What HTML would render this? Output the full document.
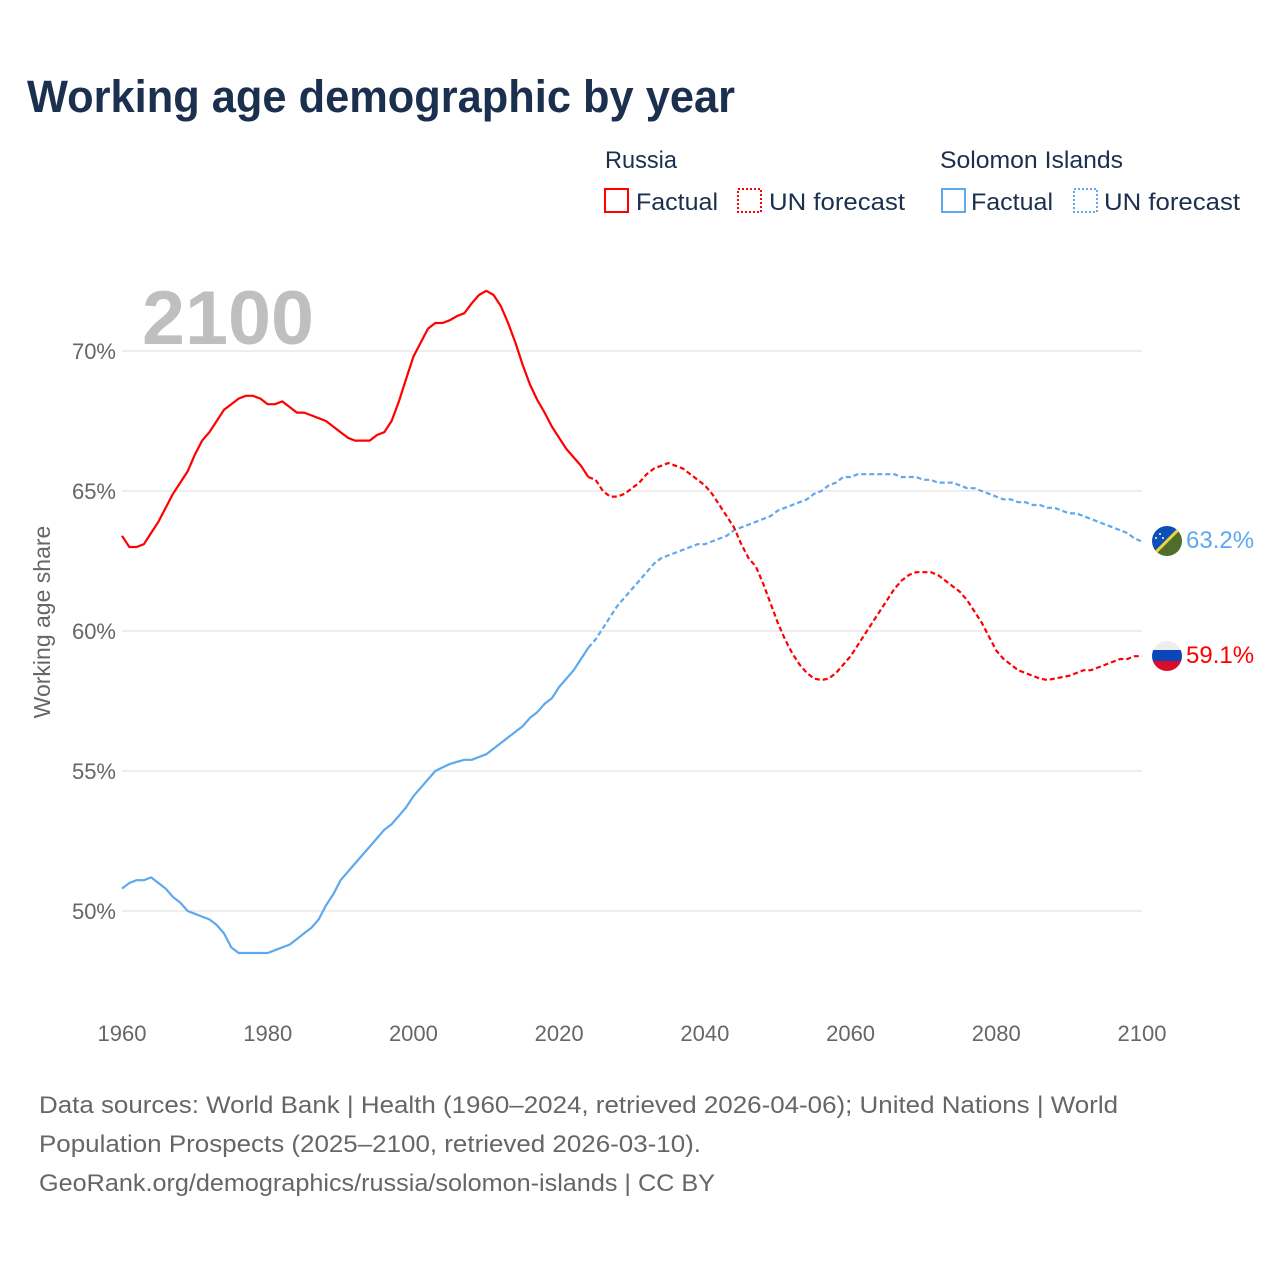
<!DOCTYPE html>
<html><head><meta charset="utf-8"><style>
html,body{margin:0;padding:0;background:#fff;}
svg{display:block;font-family:"Liberation Sans",sans-serif;}
</style></head><body>
<svg id="chart" width="1280" height="1280" viewBox="0 0 1280 1280" xmlns="http://www.w3.org/2000/svg">
<text x="27" y="112" font-size="45" font-weight="bold" fill="#1b2f4e" textLength="708" lengthAdjust="spacingAndGlyphs">Working age demographic by year</text>
<g>
<text x="605" y="168" font-size="24" fill="#1b2f4e" textLength="72" lengthAdjust="spacingAndGlyphs">Russia</text>
<rect x="605" y="189" width="23" height="23" fill="none" stroke="#ff0000" stroke-width="2"/>
<text x="636" y="210" font-size="24" fill="#1b2f4e" textLength="82" lengthAdjust="spacingAndGlyphs">Factual</text>
<rect x="738" y="189" width="23" height="23" fill="none" stroke="#ff0000" stroke-width="2" stroke-dasharray="2,2"/>
<text x="769" y="210" font-size="24" fill="#1b2f4e" textLength="136" lengthAdjust="spacingAndGlyphs">UN forecast</text>
<text x="940" y="168" font-size="24" fill="#1b2f4e" textLength="183" lengthAdjust="spacingAndGlyphs">Solomon Islands</text>
<rect x="942" y="189" width="23" height="23" fill="none" stroke="#5da8ee" stroke-width="2"/>
<text x="971" y="210" font-size="24" fill="#1b2f4e" textLength="82" lengthAdjust="spacingAndGlyphs">Factual</text>
<rect x="1074" y="189" width="23" height="23" fill="none" stroke="#5da8ee" stroke-width="2" stroke-dasharray="2,2"/>
<text x="1104" y="210" font-size="24" fill="#1b2f4e" textLength="136" lengthAdjust="spacingAndGlyphs">UN forecast</text>
</g>
<text x="142" y="344" font-size="76" font-weight="bold" fill="#bfbfbf" textLength="172" lengthAdjust="spacingAndGlyphs">2100</text>
<text transform="translate(50,622) rotate(-90)" text-anchor="middle" font-size="23" fill="#666">Working age share</text>
<g id="grid"></g>
<g id="series"></g>
<g>
<g>
<clipPath id="c1"><circle cx="1167" cy="541" r="15"/></clipPath>
<g clip-path="url(#c1)"><polygon points="1150,524 1184,524 1150,558" fill="#0c4fb8"/><polygon points="1184,524 1184,558 1150,558" fill="#4e6e2a"/><line x1="1184" y1="524" x2="1150" y2="558" stroke="#f2d140" stroke-width="3"/><circle cx="1160" cy="534" r="1" fill="#fff"/><circle cx="1156" cy="538" r="1" fill="#fff"/><circle cx="1163" cy="538" r="1" fill="#fff"/></g>
</g>
<text x="1186" y="548" font-size="24" fill="#5da8ee">63.2%</text>
<g>
<clipPath id="c2"><circle cx="1167" cy="656" r="15"/></clipPath>
<g clip-path="url(#c2)"><rect x="1150" y="640" width="34" height="11" fill="#eeeeee"/><rect x="1150" y="650" width="34" height="11" fill="#0c46b8"/><rect x="1150" y="661" width="34" height="12" fill="#d80d2a"/></g>
</g>
<text x="1186" y="663" font-size="24" fill="#ff0000">59.1%</text>
</g>
<g font-size="24" fill="#666">
<text x="39" y="1113" textLength="1079" lengthAdjust="spacingAndGlyphs">Data sources: World Bank | Health (1960–2024, retrieved 2026-04-06); United Nations | World</text>
<text x="39" y="1152" textLength="662" lengthAdjust="spacingAndGlyphs">Population Prospects (2025–2100, retrieved 2026-03-10).</text>
<text x="39" y="1191" textLength="676" lengthAdjust="spacingAndGlyphs">GeoRank.org/demographics/russia/solomon-islands | CC BY</text>
</g>
</svg>
<script>
const startYear = 1960;
const forecastStart = 2024;
const yTicks = [50, 55, 60, 65, 70];
const yTickLabels = ["50%", "55%", "60%", "65%", "70%"];
const xTicks = [1960, 1980, 2000, 2020, 2040, 2060, 2080, 2100];
const russiaFactual = [63.4,63.0,63.0,63.1,63.5,63.9,64.4,64.9,65.3,65.7,66.3,66.8,67.1,67.5,67.9,68.1,68.3,68.4,68.4,68.3,68.1,68.1,68.2,68.0,67.8,67.8,67.7,67.6,67.5,67.3,67.1,66.9,66.8,66.8,66.8,67.0,67.1,67.5,68.2,69.0,69.8,70.3,70.8,71.0,71.0,71.1,71.25,71.35,71.7,72.0,72.15,72.0,71.6,71.0,70.3,69.5,68.8,68.25,67.8,67.3,66.9,66.5,66.2,65.9,65.5];
const russiaForecast = [65.5,65.4,65.0,64.8,64.8,64.9,65.1,65.3,65.6,65.8,65.9,66.0,65.9,65.8,65.6,65.4,65.2,64.9,64.5,64.1,63.7,63.1,62.6,62.3,61.7,61.0,60.3,59.7,59.2,58.8,58.5,58.3,58.25,58.3,58.5,58.8,59.1,59.5,59.9,60.3,60.7,61.1,61.5,61.8,62.0,62.1,62.1,62.1,62.0,61.8,61.6,61.4,61.1,60.7,60.3,59.8,59.3,59.0,58.8,58.6,58.5,58.4,58.3,58.25,58.3,58.35,58.4,58.5,58.6,58.6,58.7,58.8,58.9,59.0,59.0,59.1,59.1];
const solomonFactual = [50.8,51.0,51.1,51.1,51.2,51.0,50.8,50.5,50.3,50.0,49.9,49.8,49.7,49.5,49.2,48.7,48.5,48.5,48.5,48.5,48.5,48.6,48.7,48.8,49.0,49.2,49.4,49.7,50.2,50.6,51.1,51.4,51.7,52.0,52.3,52.6,52.9,53.1,53.4,53.7,54.1,54.4,54.7,55.0,55.13,55.25,55.33,55.4,55.4,55.5,55.6,55.8,56.0,56.2,56.4,56.6,56.9,57.1,57.4,57.6,58.0,58.3,58.6,59.0,59.4];
const solomonForecast = [59.4,59.7,60.1,60.5,60.9,61.2,61.5,61.8,62.1,62.4,62.6,62.7,62.8,62.9,63.0,63.1,63.1,63.2,63.3,63.4,63.6,63.7,63.8,63.9,64.0,64.1,64.3,64.4,64.5,64.6,64.7,64.9,65.0,65.2,65.3,65.5,65.5,65.6,65.6,65.6,65.6,65.6,65.6,65.5,65.5,65.5,65.4,65.4,65.3,65.3,65.3,65.2,65.1,65.1,65.0,64.9,64.8,64.7,64.7,64.6,64.6,64.5,64.5,64.4,64.4,64.3,64.2,64.2,64.1,64.0,63.9,63.8,63.7,63.6,63.5,63.3,63.2];

const NS = "http://www.w3.org/2000/svg";
function xScale(yr){ return 122 + (yr - 1960) * (1020 / 140); }
function yScale(v){ return 351 + (70 - v) * 28; }
const grid = document.getElementById("grid");
const series = document.getElementById("series");
yTicks.forEach(function(t, i){
  const ln = document.createElementNS(NS, "line");
  
  
  ln.setAttribute("x1", 122); ln.setAttribute("x2", 1142);
  ln.setAttribute("y1", yScale(t)); ln.setAttribute("y2", yScale(t));
  ln.setAttribute("stroke", "#e8e8e8"); ln.setAttribute("stroke-width", "1.5");
  grid.appendChild(ln);
  const tx = document.createElementNS(NS, "text");
  
  
  tx.setAttribute("x", 116); tx.setAttribute("y", yScale(t) + 8);
  tx.setAttribute("text-anchor", "end"); tx.setAttribute("font-size", "22"); tx.setAttribute("fill", "#666");
  tx.textContent = yTickLabels[i];
  grid.appendChild(tx);
});
xTicks.forEach(function(t){
  const tx = document.createElementNS(NS, "text");
  
  
  tx.setAttribute("x", xScale(t)); tx.setAttribute("y", 1041);
  tx.setAttribute("text-anchor", "middle"); tx.setAttribute("font-size", "22"); tx.setAttribute("fill", "#666");
  tx.textContent = t;
  grid.appendChild(tx);
});
function drawLine(vals, y0, color, dashed, name){
  const pts = vals.map(function(v, i){ return xScale(y0 + i).toFixed(1) + "," + yScale(v).toFixed(1); }).join(" ");
  const pl = document.createElementNS(NS, "polyline");
  
  
  pl.setAttribute("points", pts);
  pl.setAttribute("fill", "none"); pl.setAttribute("stroke", color);
  pl.setAttribute("stroke-width", "2.2"); pl.setAttribute("stroke-linejoin", "round");
  if (dashed) pl.setAttribute("stroke-dasharray", "5,3");
  series.appendChild(pl);
}
drawLine(solomonFactual, startYear, "#5da8ee", false, "solomon-factual-line");
drawLine(solomonForecast, forecastStart, "#5da8ee", true, "solomon-forecast-line");
drawLine(russiaFactual, startYear, "#ff0000", false, "russia-factual-line");
drawLine(russiaForecast, forecastStart, "#ff0000", true, "russia-forecast-line");
</script>
</body></html>
